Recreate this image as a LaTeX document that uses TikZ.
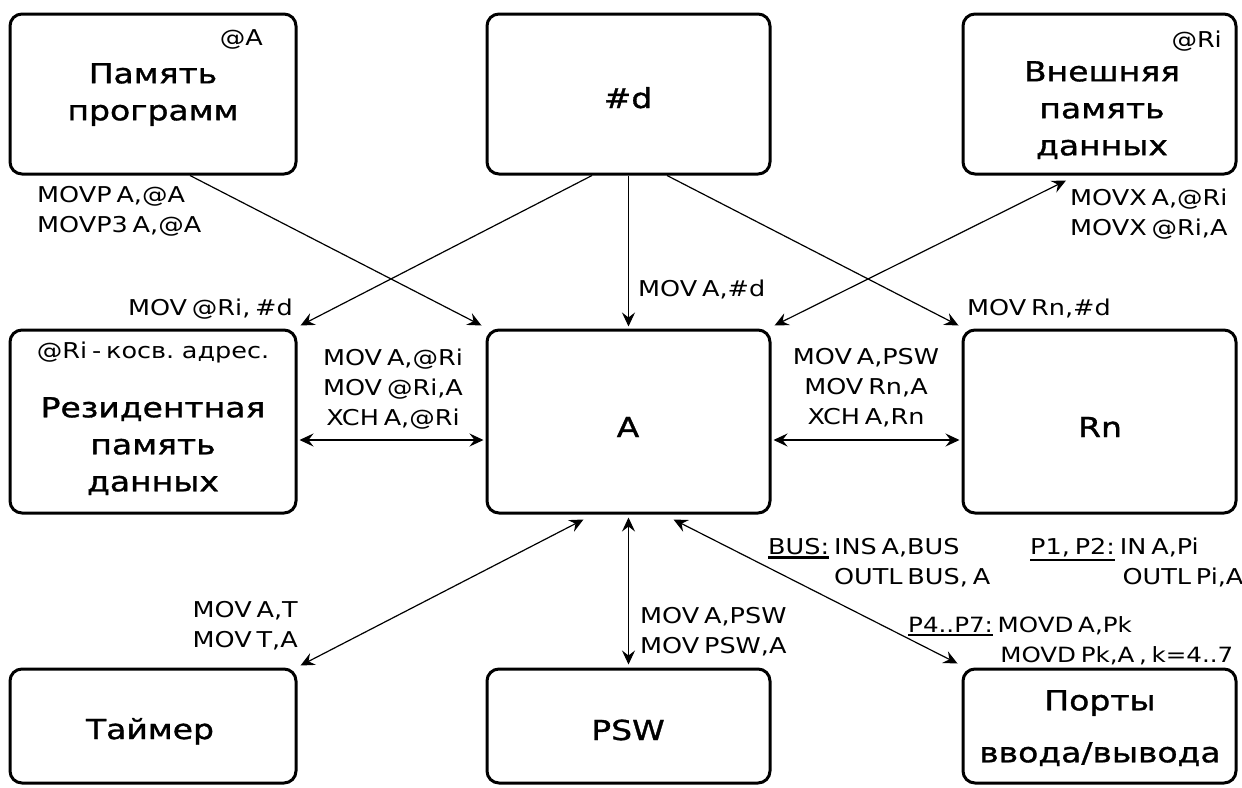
\documentclass[tikz,border=0pt]{standalone}
\usepackage{fontspec}
\setmainfont{DejaVu Sans}
\newfontfamily\labfont[FakeStretch=1.17,WordSpace=0.6]{DejaVu Sans}
\newfontfamily\ttlfont[FakeStretch=1.2,FakeBold=1.2]{DejaVu Sans}
\usetikzlibrary{arrows.meta}
\newcommand\myul[1]{\vtop{\hbox{#1}\kern1.5pt\hrule height 2.5pt}}
\begin{document}
\begin{tikzpicture}[x=1pt,y=-1pt,
  box/.style={draw, line width=3pt, rounded corners=12pt, rectangle, inner sep=0pt},
  ttl/.style={font=\ttlfont\fontsize{27.5}{37}\selectfont, align=center, inner sep=0pt},
  lab/.style={font=\labfont\fontsize{21.8}{30}\selectfont, inner sep=0pt},
  tip/.tip={Stealth[length=14pt,width=13pt,inset=5pt]},
  arr/.style={line width=1.2pt, -tip},
  darr/.style={line width=1.2pt, tip-tip}]
\useasboundingbox (0,0) rectangle (1242,787);
\fill[white] (0,0) rectangle (1242,787);
% boxes
\node[box, minimum width=286pt, minimum height=160pt] (pp) at (153,94) {};
\node[box, minimum width=283pt, minimum height=160pt] (hd) at (628.5,94) {};
\node[box, minimum width=273pt, minimum height=160pt] (vn) at (1099.5,94) {};
\node[box, minimum width=286pt, minimum height=183pt] (rz) at (153,421.5) {};
\node[box, minimum width=283pt, minimum height=183pt] (A) at (628.5,421.5) {};
\node[box, minimum width=273pt, minimum height=183pt] (Rn) at (1099.5,421.5) {};
\node[box, minimum width=286pt, minimum height=114pt] (tm) at (153,726) {};
\node[box, minimum width=283pt, minimum height=114pt] (psw) at (628.5,726) {};
\node[box, minimum width=273pt, minimum height=114pt] (pt) at (1099.5,726) {};
% titles
\node[ttl, anchor=north] (tpp) at (153,63) {Память\\программ};
\node[ttl, anchor=base] (thd) at (628,108) {\#d};
\node[ttl, anchor=north] (tvn) at (1102,61) {Внешняя\\память\\данных};
\node[ttl, anchor=north] (trz) at (153,397) {Резидентная\\память\\данных};
\node[ttl, anchor=base] (tA) at (628,437) {A};
\node[ttl, anchor=base] (tRn) at (1100,437) {Rn};
\node[ttl, anchor=base] (ttm) at (150,739) {Таймер};
\node[ttl, anchor=base] (tpsw) at (628,740) {PSW};
\node[ttl, anchor=north] (tpt) at (1100,690) {Порты\\[15pt]ввода/вывода};
% small texts in boxes
\node[lab, anchor=north east] (sA) at (263,29) {@A};
\node[lab, anchor=north east] (sRi) at (1222,31) {@Ri};
\node[lab, anchor=north] (srz) at (153,342) {@Ri - косв. адрес.};
% connectors
\draw[arr] ([xshift=37pt]pp.south) -- ([shift={(-4,-3)}]A.north west);
\draw[arr] (hd.south) -- ([yshift=2pt]A.north);
\draw[arr] ([xshift=-36.5pt]hd.south) -- ([shift={(3,-3)}]rz.north east);
\draw[arr] ([xshift=38.5pt]hd.south) -- ([shift={(-3,-3)}]Rn.north west);
\draw[darr] ([shift={(-33.5,5)}]vn.south) -- ([shift={(3,-3)}]A.north east);
\draw[darr] ([shift={(2,18.5)}]rz.east) -- ([shift={(-2,18.5)}]A.west);
\draw[darr] ([shift={(2,18.5)}]A.east) -- ([shift={(-2,18.5)}]Rn.west);
\draw[darr] ([shift={(3,-2)}]tm.north east) -- ([shift={(-45,5)}]A.south);
\draw[darr] ([yshift=-3pt]A.south) -- ([yshift=3pt]psw.north);
\draw[darr] ([shift={(45,5)}]A.south) -- ([shift={(-4,-4)}]pt.north west);
% labels
\node[lab, anchor=north west, align=left] (l1) at (37,186) {MOVP A,@A\\MOVP3 A,@A};
\node[lab, anchor=north east] (l2) at (293,299) {MOV @Ri, \#d};
\node[lab, anchor=north west] (l3) at (638,280) {MOV A,\#d};
\node[lab, anchor=north west] (l4) at (967,299) {MOV Rn,\#d};
\node[lab, anchor=north west, align=left] (l5) at (1070,189) {MOVX A,@Ri\\MOVX @Ri,A};
\node[lab, anchor=north, align=center] (l6) at (393,349) {MOV A,@Ri\\MOV @Ri,A\\XCH A,@Ri};
\node[lab, anchor=north, align=center] (l7) at (866,348) {MOV A,PSW\\MOV Rn,A\\XCH A,Rn};
\node[lab, anchor=north east, align=right] (l8) at (298,601) {MOV A,T\\MOV T,A};
\node[lab, anchor=north west, align=left] (l9) at (640,607) {MOV A,PSW\\MOV PSW,A};
\node[lab, anchor=north west, align=left] (l10) at (768,538) {\myul{BUS:} INS A,BUS\\\hphantom{BUS: }OUTL BUS, A};
\node[lab, anchor=north west, align=left] (l11) at (1030,538) {\myul{P1, P2:} IN A,Pi\\\hphantom{P1, P2: }OUTL Pi,A};
\node[lab, anchor=north west, align=left, font=\labfont\fontsize{21}{30}\selectfont] (l12) at (908,616) {\myul{P4..P7:} MOVD A,Pk\\\hphantom{P4..P7: }MOVD Pk,A ,\ k=4..7};
\end{tikzpicture}
\end{document}
